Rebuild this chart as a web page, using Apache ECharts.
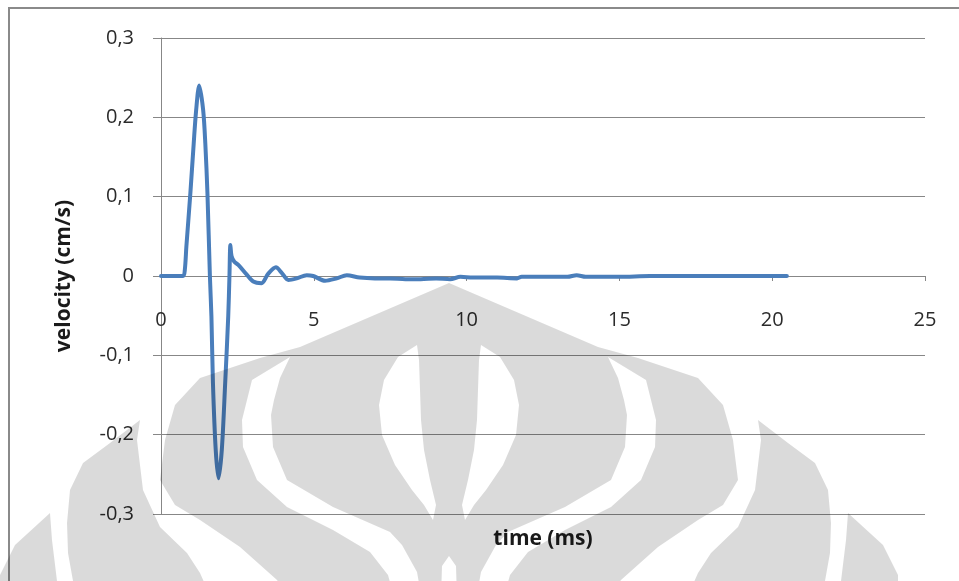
<!DOCTYPE html>
<html>
<head>
<meta charset="utf-8">
<script src="https://cdn.jsdelivr.net/npm/echarts@6/dist/echarts.min.js"></script>
<style>
  html, body { margin: 0; padding: 0; background: #ffffff; }
  #chart { width: 959px; height: 581px; }
</style>
</head>
<body>
<div id="chart"></div>
<script>
// ---------------- DATA ----------------
const time = [0, 0.72, 0.78, 0.83, 0.96, 1.07, 1.15, 1.25, 1.38, 1.45, 1.52, 1.60, 1.65, 1.70, 1.79, 1.88,
  1.99, 2.10, 2.20, 2.24, 2.27, 2.31, 2.40, 2.53, 2.80, 3.02, 3.29, 3.51, 3.76, 3.95, 4.17, 4.44, 4.77,
  4.98, 5.37, 5.75, 6.08, 6.5, 7.0, 7.5, 8.0, 8.5, 9.0, 9.46, 9.8, 10.2, 11.0, 11.65, 11.8, 12.5, 13.3,
  13.6, 13.9, 15, 16, 17, 18, 19, 20, 20.48];
const velocity = [0, 0, 0.008, 0.037, 0.104, 0.167, 0.209, 0.240, 0.209, 0.167, 0.104, 0, -0.051, -0.135,
  -0.219, -0.255, -0.219, -0.135, -0.051, 0, 0.039, 0.025, 0.018, 0.014, 0.002, -0.007, -0.009, 0.003,
  0.011, 0.004, -0.005, -0.003, 0.001, 0, -0.006, -0.003, 0.001, -0.002, -0.003, -0.003, -0.004, -0.004,
  -0.003, -0.004, -0.001, -0.002, -0.002, -0.003, -0.001, -0.001, -0.001, 0.001, -0.001, -0.001, 0, 0, 0,
  0, 0, 0];
const xTickLabels = ['0', '5', '10', '15', '20', '25'];
const yTickLabels = ['-0,3', '-0,2', '-0,1', '0', '0,1', '0,2', '0,3'];
const xTitle = 'time (ms)';
const yTitle = 'velocity (cm/s)';

// ---------------- background watermark decoration (not data) ----------------
const AXIS_X = 898; // mirror sum (centre line at 449)
function mirror(pts) { return pts.map(p => [AXIS_X - p[0], p[1]]).reverse(); }
const wmOuter = [[449,283],[598,347],[638,358],[698,378],[723,405],[733,440],[738,480],[723,505],[698,520],
  [658,547],[621,580],[608,600],[290,600],[277,580],[240,547],[200,520],[175,505],[160,480],[165,440],
  [175,405],[200,378],[260,358],[300,347]];
const wmBandL = [[290,357],[252,380],[242,420],[243,447],[257,480],[287,507],[333,530],[370,552],[388,575],
  [395,600],[422,600],[417,572],[402,545],[390,532],[333,507],[287,480],[273,447],[271,415],[274,400],[280,378]];
const wmLensL = [[417,345],[398,357],[384,380],[379,405],[382,435],[395,465],[412,490],[424,505],[433,520],
  [436,505],[430,480],[424,450],[421,420],[420,390],[419,360]];
const wmNotch = [[449,556],[442,566],[441,600],[457,600],[456,566]];
const wmLobeL = [[140,420],[137,440],[143,490],[160,527],[187,553],[200,573],[212,600],[75,600],[73,581],
  [68,553],[67,523],[70,490],[83,463],[110,443]];
const wmPieceL = [[50,513],[52,540],[57,581],[60,600],[0,600],[0,575],[15,545]];

const wmMain = [wmOuter, wmBandL, mirror(wmBandL), wmLensL, mirror(wmLensL), wmNotch];
const wmSide = [wmLobeL, mirror(wmLobeL), wmPieceL, mirror(wmPieceL)];

echarts.graphic.registerShape('multiPoly', echarts.graphic.extendShape({
  shape: { rings: [] },
  buildPath: function (ctx, shape) {
    (shape.rings || []).forEach(function (ring) {
      ring.forEach(function (p, i) { if (i === 0) ctx.moveTo(p[0], p[1]); else ctx.lineTo(p[0], p[1]); });
      ctx.closePath();
    });
  }
}));

const FONT = "'Open Sans', 'Noto Sans', sans-serif";
const GRID_COLOR = '#878787';
const GRID_TOP = 38, GRID_BOTTOM = 67, CHART_H = 581;
const Y_MIN = -0.3, Y_MAX = 0.3;
// the x axis crosses the y axis at value 0: shift it up from the grid bottom to that level
const plotH = CHART_H - GRID_TOP - GRID_BOTTOM;
const xAxisOffset = -plotH * (0 - Y_MIN) / (Y_MAX - Y_MIN);

const chart = echarts.init(document.getElementById('chart'), null, { renderer: 'canvas' });
chart.setOption({
  animation: false,
  backgroundColor: '#ffffff',
  grid: { left: 161, right: 34, top: GRID_TOP, bottom: GRID_BOTTOM, containLabel: false, outerBoundsMode: 'none' },
  xAxis: {
    type: 'value', min: 0, max: 25, interval: 5,
    offset: xAxisOffset,
    axisLine: { show: true, onZero: false, lineStyle: { color: GRID_COLOR, width: 1 } },
    axisTick: { show: true, length: 5, lineStyle: { color: GRID_COLOR } },
    axisLabel: {
      margin: 34, fontSize: 20, color: '#2b2b2b', fontFamily: FONT,
      formatter: v => xTickLabels[Math.round(v / 5)]
    },
    splitLine: { show: false },
    name: xTitle, nameLocation: 'middle', nameGap: 253,
    nameTextStyle: { fontSize: 21, fontWeight: 'bold', color: '#1a1a1a', fontFamily: FONT }
  },
  yAxis: {
    type: 'value', min: Y_MIN, max: Y_MAX, interval: 0.1,
    axisLine: { show: true, onZero: false, lineStyle: { color: GRID_COLOR, width: 1 } },
    axisTick: { show: true, length: 8, lineStyle: { color: GRID_COLOR } },
    axisLabel: {
      margin: 27, fontSize: 20, color: '#2b2b2b', fontFamily: FONT,
      formatter: v => yTickLabels[Math.round((v - Y_MIN) / 0.1)]
    },
    splitLine: { show: true, lineStyle: { color: GRID_COLOR, width: 1 } },
    name: yTitle, nameLocation: 'middle', nameGap: 86,
    nameTextStyle: { fontSize: 21, fontWeight: 'bold', color: '#1a1a1a', fontFamily: FONT }
  },
  series: [{
    type: 'line',
    data: time.map((t, i) => [t, velocity[i]]),
    showSymbol: false,
    smooth: 0.3,
    lineStyle: { width: 4, color: '#4A7EBB', cap: 'round', join: 'round' },
    z: 3
  }],
  graphic: [
    { type: 'rect', silent: true, z: 50, shape: { x: 9, y: 8, width: 1000, height: 700 },
      style: { fill: 'none', stroke: '#8a8a8a', lineWidth: 2 } },
    { type: 'multiPoly', silent: true, z: 100, x: 0, y: 0, shape: { rings: wmMain },
      style: { fill: 'rgba(0,0,0,0.145)' } },
    { type: 'multiPoly', silent: true, z: 100, x: 0, y: 0, shape: { rings: wmSide },
      style: { fill: 'rgba(0,0,0,0.145)' } }
  ]
});
</script>
</body>
</html>
